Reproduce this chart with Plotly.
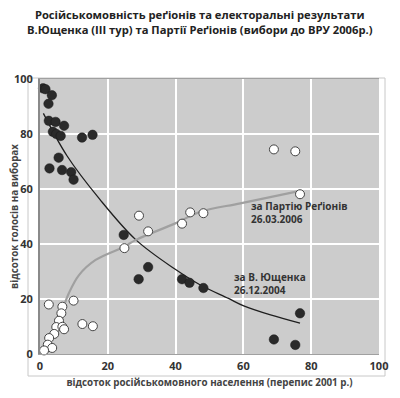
import plotly.graph_objects as go

# Yushchenko 26.12.2004 (filled markers)
yu_x = [0.9, 1.6, 3.5, 2.5, 2.6, 4.6, 7.1, 3.8, 4.8, 6.1, 12.4, 15.5, 5.5, 2.8, 6.5, 9.2, 9.9,
        24.7, 31.9, 29.1, 41.9, 44.1, 48.2, 76.7, 69.0, 75.3]
yu_y = [96.6, 96.3, 94.1, 91.0, 84.8, 84.4, 83.0, 80.8, 80.0, 79.3, 78.7, 79.7, 71.4, 67.5, 66.9, 66.1, 63.4,
        43.3, 31.6, 27.2, 27.2, 25.9, 24.0, 14.8, 5.3, 3.3]

# Party of Regions 26.03.2006 (open markers)
pr_x = [69.0, 75.3, 76.7, 29.2, 31.9, 24.9, 44.3, 48.2, 41.9, 9.9, 12.5, 15.6,
        2.6, 6.6, 6.3, 5.6, 4.8, 6.6, 7.1, 4.2, 2.7, 2.3, 3.6, 1.2]
pr_y = [74.4, 73.7, 58.1, 50.3, 44.6, 38.5, 51.5, 51.2, 47.4, 19.4, 10.9, 10.1,
        18.0, 17.2, 14.8, 12.1, 9.8, 9.9, 9.0, 7.3, 5.8, 3.4, 2.2, 1.3]

# trend lines
yu_trend_x = [1.0, 8.0, 17.6, 28.3, 39.9, 47.3, 55.6, 60.1, 68.0, 76.7]
yu_trend_y = [87.5, 72.0, 56.3, 41.5, 30.8, 25.1, 20.2, 17.5, 14.2, 11.2]
pr_trend_x = [1.1, 4.1, 6.6, 8.5, 11.5, 16.4, 24.8, 28.3, 39.9, 47.3, 59.1, 76.7]
pr_trend_y = [0.2, 8.7, 16.0, 22.1, 28.7, 34.2, 39.0, 41.5, 47.5, 51.7, 54.8, 59.3]

x_ticks = [0, 20, 40, 60, 80, 100]
y_ticks = [0, 20, 40, 60, 80, 100]

title_text = ("Російськомовність реґіонів та електоральні результати<br>"
              "В.Ющенка (ІІІ тур) та Партії Реґіонів (вибори до ВРУ 2006р.)")
x_title = "відсоток російськомовного населення (перепис 2001 р.)"
y_title = "відсоток голосів на виборах"
pr_label = "за Партію Реґіонів<br>26.03.2006"
yu_label = "за В. Ющенка<br>26.12.2004"

FONT = "Open Sans"

fig = go.Figure()
fig.add_trace(go.Scatter(x=yu_trend_x, y=yu_trend_y, mode="lines", line_shape="spline",
                         line=dict(color="#1e1e1e", width=1.3), hoverinfo="skip"))
fig.add_trace(go.Scatter(x=pr_trend_x, y=pr_trend_y, mode="lines", line_shape="spline",
                         line=dict(color="#a0a0a0", width=2.2), hoverinfo="skip"))
fig.add_trace(go.Scatter(x=yu_x, y=yu_y, mode="markers", cliponaxis=False,
                         marker=dict(size=9.5, color="#2a2a2a", line=dict(color="#1a1a1a", width=0.5))))
fig.add_trace(go.Scatter(x=pr_x, y=pr_y, mode="markers", cliponaxis=False,
                         marker=dict(size=9, color="white", line=dict(color="#444444", width=1))))

# page offset of the figure div (browser body margin)
OFF = 8
W, H = 392, 390
L, R, T, B = 40 - OFF, 21, 79 - OFF, 44
pw, ph = W - L - R, H - T - B

def px2paper_x(px):
    return (px - OFF - L) / pw

def px2paper_y(py):
    return (H - B - (py - OFF)) / ph

fig.add_shape(type="rect", xref="paper", yref="paper",
              x0=px2paper_x(28), x1=px2paper_x(385), y0=px2paper_y(376), y1=px2paper_y(78),
              line=dict(color="#c8c8c8", width=1), fillcolor="rgba(0,0,0,0)", layer="below")

fig.add_annotation(xref="paper", yref="paper", x=px2paper_x(200), y=px2paper_y(22),
                   text=title_text, showarrow=False, xanchor="center", yanchor="middle",
                   font=dict(family=FONT, size=11.2, color="#222222", weight="bold"))
fig.add_annotation(x=61.7, y=57.0, text=pr_label, showarrow=False, xanchor="left", yanchor="top",
                   align="left", font=dict(family=FONT, size=10, color="#333333", weight="bold"))
fig.add_annotation(x=56.7, y=20.1, text=yu_label, showarrow=False, xanchor="left", yanchor="bottom",
                   align="left", font=dict(family=FONT, size=10, color="#333333", weight="bold"))

fig.update_layout(
    width=W, height=H, margin=dict(l=L, r=R, t=T, b=B, autoexpand=False),
    paper_bgcolor="white", plot_bgcolor="#cccccc", showlegend=False,
    font=dict(family=FONT, color="#333333"),
    xaxis=dict(range=[0, 100], tickvals=x_ticks, showgrid=True, gridcolor="white", gridwidth=1.5,
               zeroline=False, showline=True, linecolor="#a0a0a0", linewidth=1, mirror=True,
               automargin=False,
               tickfont=dict(family=FONT, size=11, color="#333333", weight="bold"),
               ticks="outside", ticklen=2, tickcolor="rgba(0,0,0,0)",
               title=dict(text=x_title, standoff=6,
                          font=dict(family=FONT, size=9.8, color="#444444", weight="bold"))),
    yaxis=dict(range=[0, 100], tickvals=y_ticks, showgrid=True, gridcolor="white", gridwidth=1.5,
               zeroline=False, showline=True, linecolor="#8a8a8a", linewidth=2,
               automargin=False,
               tickfont=dict(family=FONT, size=11, color="#333333", weight="bold"),
               ticks="outside", ticklen=3, tickcolor="rgba(0,0,0,0)",
               title=dict(text=y_title, standoff=4,
                          font=dict(family=FONT, size=9.8, color="#444444", weight="bold"))),
)

fig.write_html("out.html")
